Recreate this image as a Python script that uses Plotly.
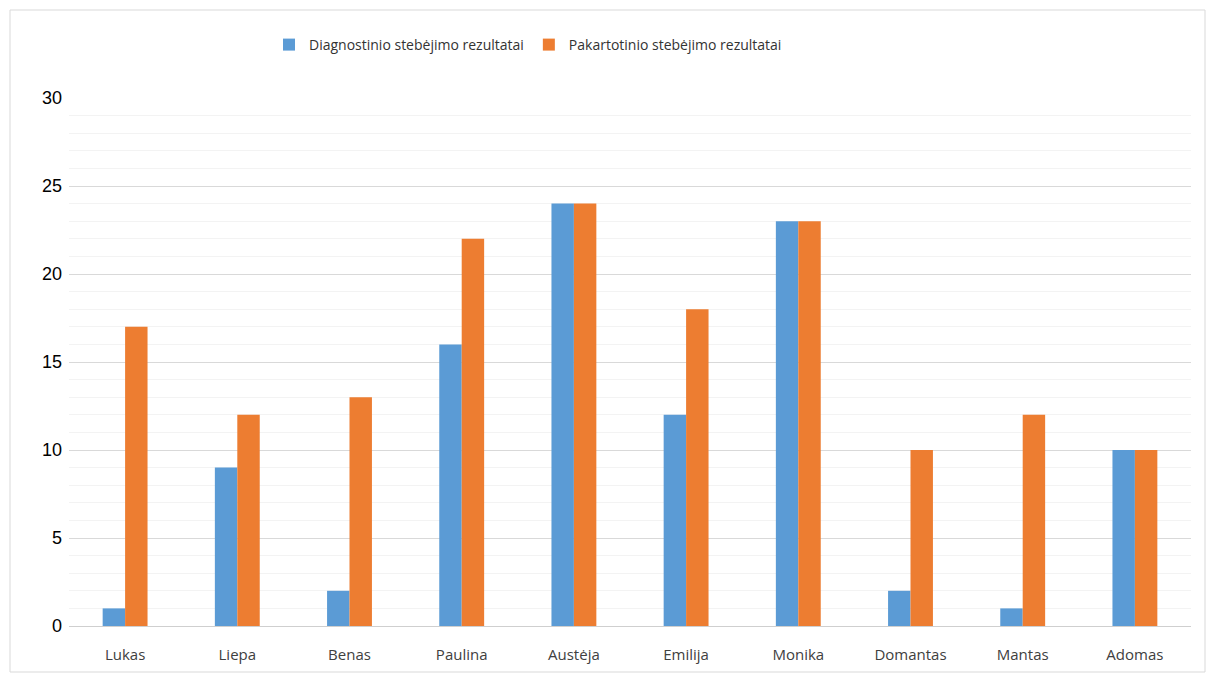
import plotly.graph_objects as go

categories = ["Lukas", "Liepa", "Benas", "Paulina", "Austėja", "Emilija", "Monika", "Domantas", "Mantas", "Adomas"]
diagnostinio = [1, 9, 2, 16, 24, 12, 23, 2, 1, 10]
pakartotinio = [17, 12, 13, 22, 24, 18, 23, 10, 12, 10]
series_names = ["Diagnostinio stebėjimo rezultatai", "Pakartotinio stebėjimo rezultatai"]
y_ticks = [0, 5, 10, 15, 20, 25, 30]

W, H = 1219, 676
L, R, T, B = 69, 28, 98, 50
pw, ph = W - L - R, H - T - B

def px_x(p):
    return (p - L) / pw

def px_y(p):
    return (H - B - p) / ph

fig = go.Figure()
fig.add_trace(go.Bar(x=categories, y=diagnostinio, name=series_names[0], marker_color="#5B9BD5", marker_line_width=0))
fig.add_trace(go.Bar(x=categories, y=pakartotinio, name=series_names[1], marker_color="#ED7D31", marker_line_width=0))

fig.update_layout(
    width=W, height=H,
    margin=dict(l=L, r=R, t=T, b=B),
    paper_bgcolor="white", plot_bgcolor="white",
    barmode="group", bargap=0.6, bargroupgap=0,
    showlegend=True,
    legend=dict(orientation="h", x=px_x(528), xanchor="center", y=px_y(45), yanchor="middle",
                font=dict(family="Open Sans", size=14, color="#333333"),
                itemwidth=30, traceorder="normal"),
    xaxis=dict(showgrid=False, showline=False, ticks="", ticklabelstandoff=18,
               tickfont=dict(family="Open Sans", size=15, color="#404040")),
    yaxis=dict(range=[0, 30], tickvals=y_ticks, showgrid=True, gridcolor="#d9d9d9", gridwidth=1,
               zeroline=True, zerolinecolor="#cfcfcf", zerolinewidth=1, showline=False, ticks="",
               ticklabelstandoff=6,
               tickfont=dict(family="Liberation Sans", size=18, color="black"),
               minor=dict(dtick=1, showgrid=True, gridcolor="#f3f3f3", gridwidth=1)),
    shapes=[dict(type="rect", xref="paper", yref="paper",
                 x0=px_x(10), x1=px_x(1205), y0=px_y(672), y1=px_y(10),
                 line=dict(color="#d9d9d9", width=1), fillcolor="rgba(0,0,0,0)", layer="below")],
)

fig.write_html("out.html")
